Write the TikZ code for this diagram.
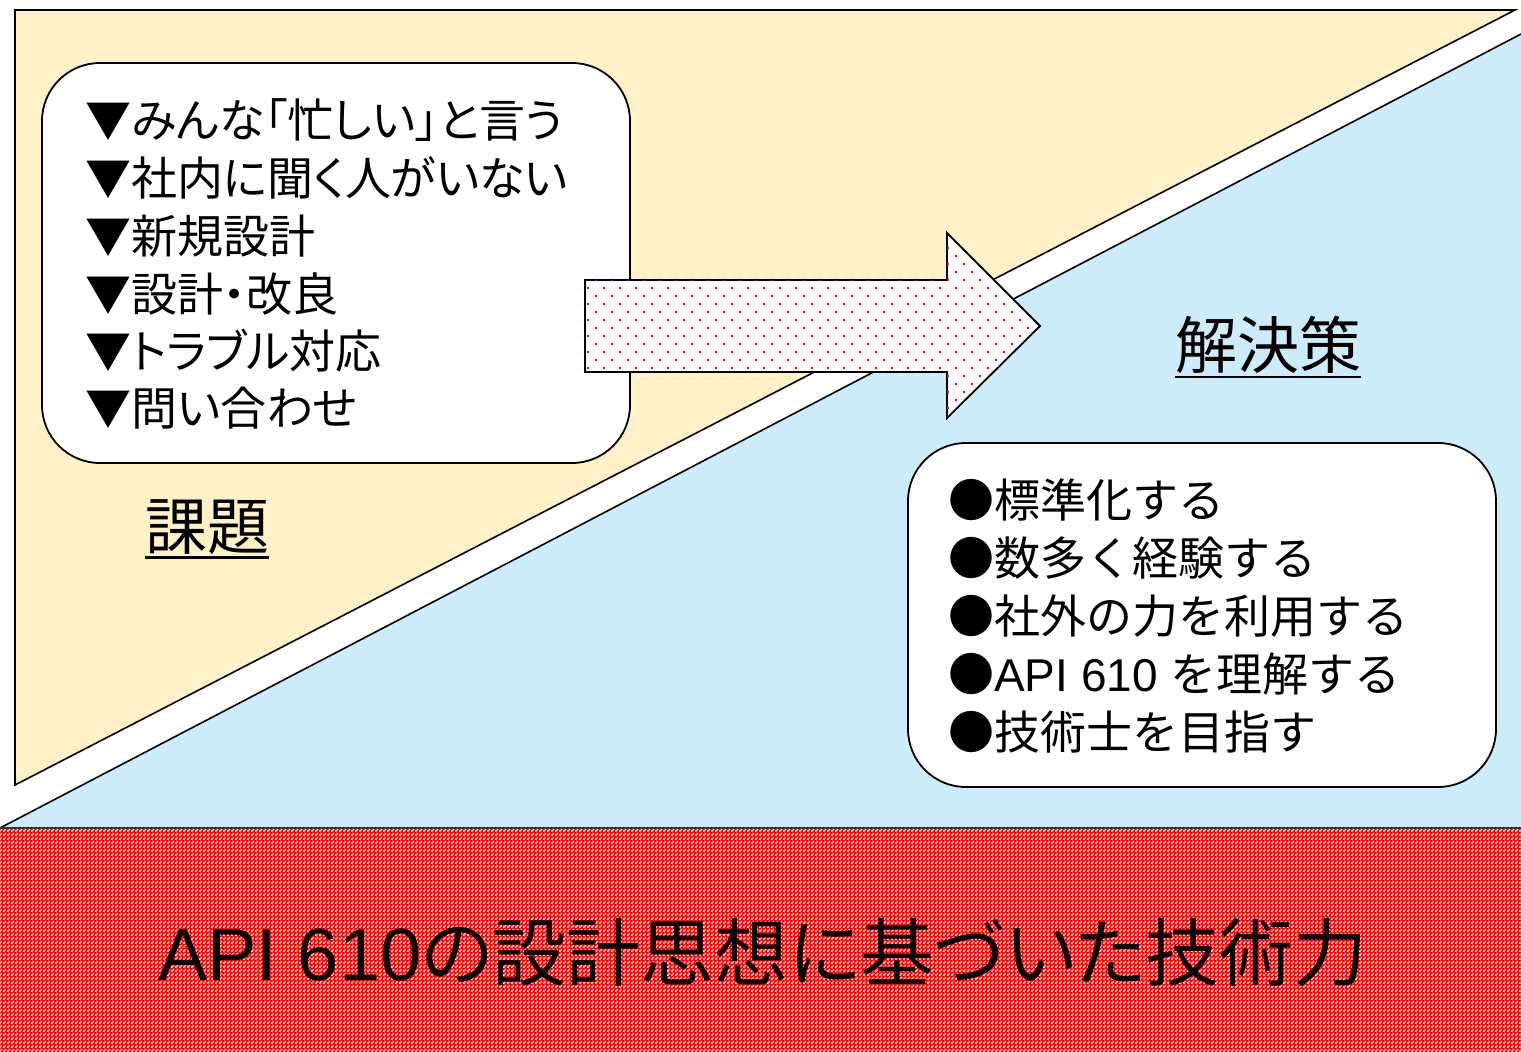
\documentclass[tikz,border=0pt]{standalone}
\usepackage{fontspec}
\setmainfont{Noto Sans CJK JP}[RawFeature=+palt]
\newfontfamily\jpfull{Noto Sans CJK JP}
\newfontfamily\lat{Liberation Sans}
\usetikzlibrary{patterns}
\definecolor{beige}{RGB}{255,240,200}
\definecolor{lblue}{RGB}{204,236,250}
\pgfdeclarepatternformonly{reddots}{\pgfpoint{-1pt}{-1pt}}{\pgfpoint{17pt}{17pt}}{\pgfpoint{16pt}{16pt}}{%
  \pgfpathrectangle{\pgfpoint{3.2pt}{3.2pt}}{\pgfpoint{1.6pt}{1.6pt}}%
  \pgfpathrectangle{\pgfpoint{11.2pt}{11.2pt}}{\pgfpoint{1.6pt}{1.6pt}}%
  \pgfusepath{fill}}
\pgfdeclarepatternformonly{whitechecker}{\pgfpointorigin}{\pgfpoint{4pt}{4pt}}{\pgfpoint{4pt}{4pt}}{%
  \pgfpathrectangle{\pgfpoint{0pt}{0pt}}{\pgfpoint{2pt}{2pt}}%
  \pgfpathrectangle{\pgfpoint{2pt}{2pt}}{\pgfpoint{2pt}{2pt}}%
  \pgfusepath{fill}}
\tikzset{
  panel/.style={draw=black, line width=1.6pt, line join=miter},
  roundbox/.style={draw=black, line width=1.8pt, fill=white, rounded corners=58pt},
  item/.style={anchor=west, inner sep=0pt, font=\fontsize{46}{46}\selectfont},
  ritem/.style={anchor=west, inner sep=0pt, font=\jpfull\fontsize{46}{46}\selectfont},
  title/.style={anchor=west, inner sep=0pt, font=\jpfull\fontsize{62}{62}\selectfont},
  uline/.style={line width=2.5pt},
}
\begin{document}
\begin{tikzpicture}[x=1pt,y=-1pt]
\useasboundingbox (0,0) rectangle (1521,1052);
\fill[white] (0,0) rectangle (1521,1052);
\begin{scope}
\clip (0,0) rectangle (1521,1052);
% beige triangle
\draw[panel, fill=beige] (15,10) -- (1515,10) -- (15,785) -- cycle;
% blue triangle
\draw[panel, fill=lblue] (0,828) -- (1523,33) -- (1523,828) -- cycle;
% bottom band
\path[fill=red, postaction={pattern=whitechecker, pattern color=white}] (0,828) rectangle (1521,1052);
\draw[line width=2pt, black!80] (0,828) -- (1521,828);
\end{scope}
% rounded boxes
\draw[roundbox] (42,63) rectangle (630,463);
\draw[roundbox] (908,443) rectangle (1496,787);
% arrow
\draw[line width=1.8pt, line join=miter, fill=white, postaction={pattern=reddots, pattern color=red}]
  (585,280) -- (947,280) -- (947,233) -- (1040,326) -- (947,418) -- (947,372) -- (585,372) -- cycle;
% left items
\node[item] (l1) at (85,120) {▼みんな「忙しい」と言う};
\node[item] (l2) at (85,178) {▼社内に聞く人がいない};
\node[item] (l3) at (85,236) {▼新規設計};
\node[item] (l4) at (85,294) {▼設計・改良};
\node[item] (l5) at (85,351) {▼トラブル対応};
\node[item] (l6) at (85,408) {▼問い合わせ};
% right items
\node[ritem] (r1) at (948,500) {●標準化する};
\node[ritem] (r2) at (948,558) {●数多く経験する};
\node[ritem] (r3) at (948,616) {●社外の力を利用する};
\node[ritem] (r4) at (948,674) {●{\lat API 610 }を理解する};
\node[ritem] (r5) at (948,732) {●技術士を目指す};
% titles
\node[title] (kadai) at (145,527) {課題};
\draw[uline] ([yshift=-3pt]kadai.south west) -- ([yshift=-3pt]kadai.south east);
\node[title] (kaiketsu) at (1175,345) {解決策};
\draw[uline] ([yshift=-3pt]kaiketsu.south west) -- ([yshift=-3pt]kaiketsu.south east);
% bottom text
\node[inner sep=0pt, font=\fontsize{74}{74}\selectfont] (base) at (763,953) {{\lat API 610}の設計思想に基づいた技術力};
\end{tikzpicture}
\end{document}
